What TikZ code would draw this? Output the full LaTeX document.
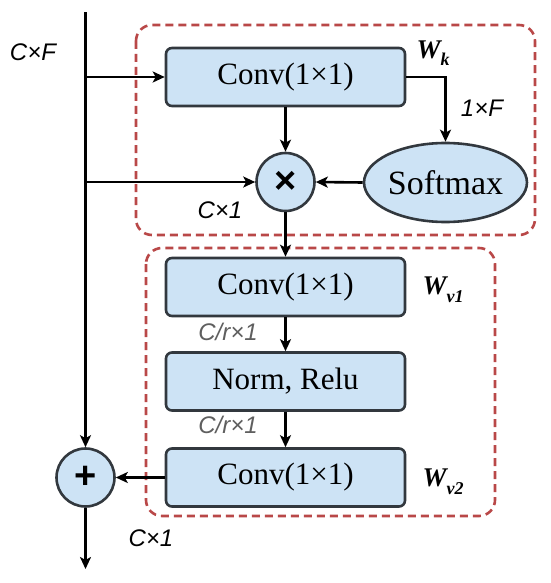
\documentclass[tikz,border=0pt]{standalone}
\usepackage{fontspec}
\setmainfont{Liberation Serif}
\setsansfont{Liberation Sans}
\usetikzlibrary{shapes.geometric,arrows.meta}
\definecolor{boxfill}{RGB}{205,227,245}
\definecolor{boxline}{RGB}{50,56,62}
\definecolor{dashred}{RGB}{185,72,72}
\definecolor{labgray}{RGB}{95,95,95}
\tikzset{
  blockbox/.style={draw=boxline, fill=boxfill, line width=2.6pt, rounded corners=6pt,
    minimum width=239pt, minimum height=58pt, inner sep=0pt,
    font=\fontsize{31}{31}\selectfont},
  opcircle/.style={draw=boxline, fill=boxfill, line width=2.6pt, circle,
    minimum size=58pt, inner sep=0pt, font=\sffamily\bfseries\fontsize{38}{38}\selectfont},
  softbox/.style={draw=boxline, fill=boxfill, line width=2.6pt, ellipse,
    minimum width=161pt, minimum height=79pt, inner sep=0pt,
    font=\fontsize{34}{34}\selectfont},
  arr/.style={line width=2.6pt, -{Stealth[length=12pt,width=11pt,inset=3pt]}},
  groupbox/.style={draw=dashred, line width=2.6pt, dash pattern=on 8pt off 5pt, rounded corners=16pt},
  dimlab/.style={font=\sffamily\itshape\fontsize{24}{24}\selectfont, inner sep=0pt},
  graylab/.style={dimlab, text=labgray},
  wlab/.style={font=\bfseries\itshape\fontsize{27}{27}\selectfont, inner sep=0pt}
}
\newcommand{\wsub}[1]{\raisebox{-0.28em}{\fontsize{18}{18}\selectfont #1}}
\begin{document}
\begin{tikzpicture}[x=1pt,y=-1pt]
\useasboundingbox (0,0) rectangle (550,583);
% group boxes
\draw[groupbox] (136,25) rectangle (535,235);
\draw[groupbox] (146,248) rectangle (495,516);
% nodes
\node[blockbox] (convk) at (285.5,77) {Conv(1×1)};
\node[opcircle] (mult) at (285.5,182) {×};
\node[softbox] (soft) at (445.5,182.5) {Softmax};
\node[blockbox] (convv1) at (285.5,287) {Conv(1×1)};
\node[blockbox] (norm) at (285.5,381.5) {Norm, Relu};
\node[blockbox] (convv2) at (285.5,477.5) {Conv(1×1)};
\node[opcircle] (plus) at (85.5,477.5) {+};
\coordinate (top) at (85.5,12.5);
\coordinate (b1) at (85.5,77);
\coordinate (b2) at (85.5,182);
\coordinate (out) at (85.5,569);
% connectors
\draw[arr] (top) -- (plus.north);
\draw[arr] (b1) -- (convk.west);
\draw[arr] (b2) -- (mult.west);
\draw[arr] (convk.south) -- (mult.north);
\draw[arr] (convk.east) -| (soft.north);
\draw[arr] (soft.west) -- (mult.east);
\draw[arr] (mult.south) -- (convv1.north);
\draw[arr] (convv1.south) -- (norm.north);
\draw[arr] (norm.south) -- (convv2.north);
\draw[arr] (convv2.west) -- (plus.east);
\draw[arr] (plus.south) -- (out);
% labels
\node[dimlab] (lcf) at (33,52) {C×F};
\node[wlab] (lwk) at (433,53) {W\wsub{k}};
\node[dimlab] (l1f) at (482,108) {1×F};
\node[dimlab] (lc1a) at (220,210) {C×1};
\node[wlab] (lwv1) at (443,290) {W\wsub{v1}};
\node[graylab] (lcr1) at (228,332) {C/r×1};
\node[graylab] (lcr2) at (228,425) {C/r×1};
\node[wlab] (lwv2) at (443,482) {W\wsub{v2}};
\node[dimlab] (lc1b) at (151,538) {C×1};
\end{tikzpicture}
\end{document}
